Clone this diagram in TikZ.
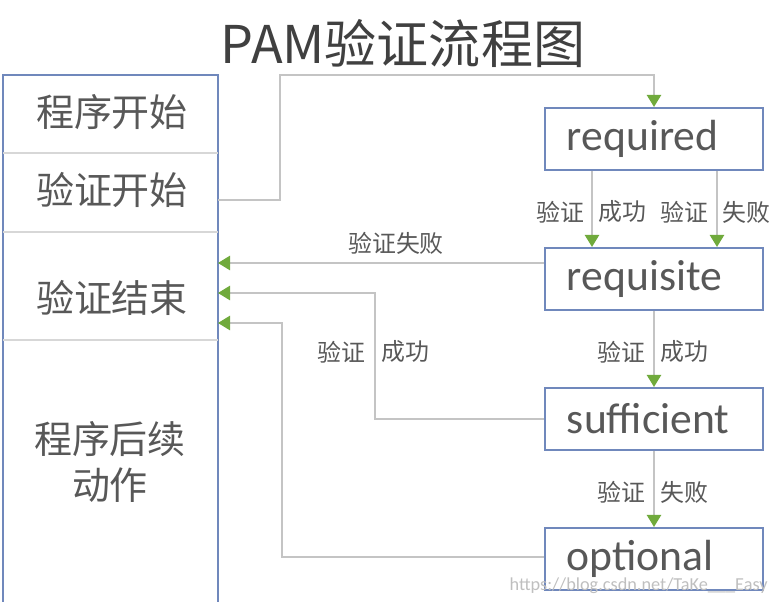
\documentclass[tikz,border=0pt]{standalone}
\usepackage{fontspec}
\setmainfont{Carlito}
\newfontfamily\cjk{Noto Sans CJK SC}
\usetikzlibrary{arrows.meta}
\definecolor{boxblue}{RGB}{112,136,188}
\definecolor{linegray}{RGB}{196,196,196}
\definecolor{sepgray}{RGB}{215,215,215}
\definecolor{tipgreen}{RGB}{112,170,60}
\definecolor{txtgray}{RGB}{88,88,88}
\begin{document}
\begin{tikzpicture}[x=0.025cm,y=-0.025cm,
    box/.style={draw=boxblue,line width=1.5pt,text width=4.35cm,align=left,minimum height=1.55cm,
      inner xsep=0.55cm,inner ysep=0pt,text=txtgray,font=\fontsize{31}{36}\selectfont},
    cell/.style={inner sep=0pt,text=txtgray,align=center,font=\cjk\fontsize{27}{33}\selectfont},
    lbl/.style={inner sep=0pt,text=txtgray,font=\cjk\fontsize{17}{20}\selectfont},
    flow/.style={draw=linegray,line width=0.9pt,-{Triangle[length=3mm,width=3.6mm,color=tipgreen]}}]
  \clip (0,0) rectangle (772,602);
  \useasboundingbox (0,0) rectangle (772,602);
  % title
  \node[font=\cjk\fontsize{37}{41}\selectfont,text=black!75] (title) at (403,44) {PAM验证流程图};
  % left column
  \draw[boxblue,line width=1.5pt] (3,640) |- (218,75) -- (218,640);
  \draw[sepgray,line width=0.8pt] (3,153) -- (218,153);
  \draw[sepgray,line width=0.8pt] (3,232) -- (218,232);
  \draw[sepgray,line width=0.8pt] (3,340) -- (218,340);
  \node[cell] (cell1) at (112,112) {程序开始};
  \node[cell] (cell2) at (112,190) {验证开始};
  \node[cell] (cell3) at (112,298) {验证结束};
  \node[cell] (cell4) at (110,462) {程序后续\\动作};
  \coordinate (out) at (218,200);
  \coordinate (in1) at (218,263);
  \coordinate (in2) at (218,293);
  \coordinate (in3) at (218,323);
  % modules
  \node[box] (required) at (654,139) {required};
  \node[box] (requisite) at (654,279) {requisite};
  \node[box] (sufficient) at (654,419) {sufficient};
  \node[box] (optional) at (654,559) {optional};
  % connectors
  \draw[flow] (out) -- (280,200) -- (280,75) -| (required.north);
  \draw[flow] (required.south -| 592,0) -- (requisite.north -| 592,0);
  \draw[flow] (required.south -| 717,0) -- (requisite.north -| 717,0);
  \draw[flow] (requisite.south) -- (sufficient.north);
  \draw[flow] (sufficient.south) -- (optional.north);
  \draw[flow] (requisite.west |- in1) -- (in1);
  \draw[flow] (sufficient.west) -| (375,293) -- (in2);
  \draw[flow] (optional.west |- 0,557) -| (282,323) -- (in3);
  % labels
  \node[lbl,anchor=east] (l1) at (585,212) {验证};
  \node[lbl,anchor=west] (l2) at (598,212) {成功};
  \node[lbl,anchor=east] (l3) at (709,212) {验证};
  \node[lbl,anchor=west] (l4) at (722,212) {失败};
  \node[lbl] (l5) at (396,243) {验证失败};
  \node[lbl,anchor=east] (l6) at (366,352) {验证};
  \node[lbl,anchor=west] (l7) at (381,352) {成功};
  \node[lbl,anchor=east] (l8) at (646,352) {验证};
  \node[lbl,anchor=west] (l9) at (660,352) {成功};
  \node[lbl,anchor=east] (l10) at (646,492) {验证};
  \node[lbl,anchor=west] (l11) at (660,492) {失败};
  % watermark
  \node[inner sep=0pt,text=black!25,font=\fontsize{13}{15}\selectfont,anchor=east] (mark) at (768,586) {https://blog.csdn.net/TaKe\textunderscore\textunderscore\textunderscore Easy};
\end{tikzpicture}
\end{document}
